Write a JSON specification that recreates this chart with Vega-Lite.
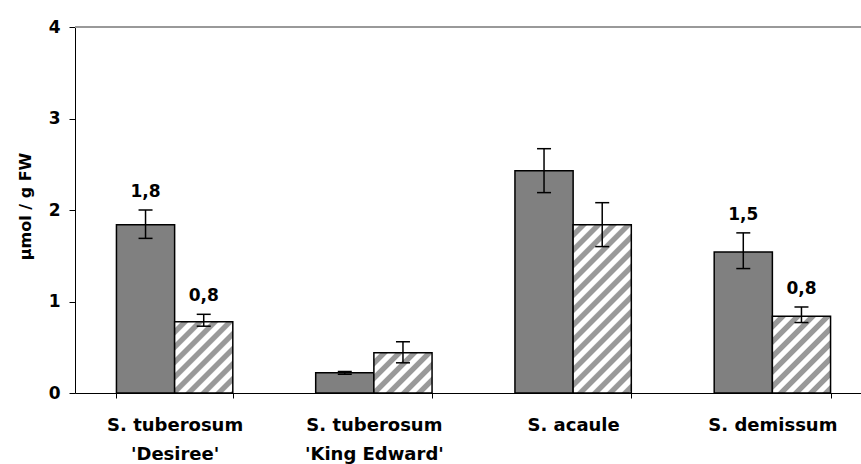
{
  "$schema": "https://vega.github.io/schema/vega-lite/v6.json",
  "autosize": {"type": "none"},
  "padding": {"left": 75, "top": 27, "right": 0, "bottom": 71},
  "width": 786,
  "height": 366,
  "background": "white",
  "config": {
    "view": {"stroke": null},
    "locale": {"number": {"decimal": ",", "thousands": " ", "grouping": [3], "currency": ["", " €"]}},
    "axis": {"domainColor": "black", "tickColor": "black", "labelColor": "black", "titleColor": "black", "grid": false},
    "axisY": {
      "tickSize": 6, "labelPadding": 9,
      "labelFont": "DejaVu Sans", "labelFontWeight": "bold", "labelFontSize": 17,
      "titleFont": "DejaVu Sans", "titleFontWeight": "bold", "titleFontSize": 16,
      "titleX": -42, "titleY": 179, "titleAngle": -90, "titleBaseline": "bottom", "titleAlign": "center"
    }
  },
  "data": {
    "values": [
      {"species": "S. tuberosum 'Desiree'", "series": "A", "value": 1.84, "lower": 1.69, "upper": 2.0},
      {"species": "S. tuberosum 'Desiree'", "series": "B", "value": 0.78, "lower": 0.73, "upper": 0.86},
      {"species": "S. tuberosum 'King Edward'", "series": "A", "value": 0.22, "lower": 0.205, "upper": 0.235},
      {"species": "S. tuberosum 'King Edward'", "series": "B", "value": 0.44, "lower": 0.33, "upper": 0.56},
      {"species": "S. acaule", "series": "A", "value": 2.43, "lower": 2.19, "upper": 2.67},
      {"species": "S. acaule", "series": "B", "value": 1.84, "lower": 1.6, "upper": 2.08},
      {"species": "S. demissum", "series": "A", "value": 1.54, "lower": 1.36, "upper": 1.75},
      {"species": "S. demissum", "series": "B", "value": 0.84, "lower": 0.77, "upper": 0.94}
    ]
  },
  "layer": [
    {
      "mark": {"type": "rule", "color": "#999999", "strokeWidth": 2},
      "encoding": {"y": {"datum": 4, "type": "quantitative", "title": "µmol / g FW", "axis": {"values": [0, 1, 2, 3, 4], "format": "d"}}}
    },
    {
      "encoding": {
        "x": {
          "field": "species", "type": "nominal", "sort": null, "title": null,
          "scale": {"range": [0, 797], "paddingInner": 0.416, "paddingOuter": 0.208},
          "axis": {
            "labelAngle": 0, "tickBand": "extent", "tickSize": 5, "labelPadding": 18,
            "labelFont": "DejaVu Sans", "labelFontWeight": "bold", "labelFontSize": 18,
            "labelLineHeight": 29, "labelBaseline": "top", "labelOverlap": false, "labelBound": false,
            "labelLimit": 300,
            "labelExpr": "indexof(datum.label, \"'\") > 0 ? [substring(datum.label, 0, indexof(datum.label, \"'\") - 1), substring(datum.label, indexof(datum.label, \"'\"))] : datum.label"
          }
        },
        "xOffset": {"field": "series", "type": "nominal", "scale": {"paddingInner": 0, "paddingOuter": 0}}
      },
      "layer": [
        {
          "mark": {"type": "bar", "stroke": "black", "strokeWidth": 1.5},
          "encoding": {
            "y": {
              "field": "value", "type": "quantitative",
              "scale": {"domain": [0, 4], "nice": false},
              "title": "µmol / g FW",
              "axis": {"values": [0, 1, 2, 3, 4], "format": "d"}
            },
            "fill": {
              "condition": [
                {"test": "datum.series === 'A'", "value": "#808080"},
                {"test": "indexof(datum.species, 'Desiree') >= 0", "value": {"gradient": "linear", "x1": 0, "y1": 0, "x2": 1.646, "y2": 2.02, "stops": [
                  {"offset": 0, "color": "#ffffff"}, {"offset": 0.025, "color": "#ffffff"}, {"offset": 0.03125, "color": "#999999"}, {"offset": 0.05625, "color": "#999999"},
                  {"offset": 0.0625, "color": "#ffffff"}, {"offset": 0.0875, "color": "#ffffff"}, {"offset": 0.09375, "color": "#999999"}, {"offset": 0.11875, "color": "#999999"},
                  {"offset": 0.125, "color": "#ffffff"}, {"offset": 0.15, "color": "#ffffff"}, {"offset": 0.15625, "color": "#999999"}, {"offset": 0.18125, "color": "#999999"},
                  {"offset": 0.1875, "color": "#ffffff"}, {"offset": 0.2125, "color": "#ffffff"}, {"offset": 0.21875, "color": "#999999"}, {"offset": 0.24375, "color": "#999999"},
                  {"offset": 0.25, "color": "#ffffff"}, {"offset": 0.275, "color": "#ffffff"}, {"offset": 0.28125, "color": "#999999"}, {"offset": 0.30625, "color": "#999999"},
                  {"offset": 0.3125, "color": "#ffffff"}, {"offset": 0.3375, "color": "#ffffff"}, {"offset": 0.34375, "color": "#999999"}, {"offset": 0.36875, "color": "#999999"},
                  {"offset": 0.375, "color": "#ffffff"}, {"offset": 0.4, "color": "#ffffff"}, {"offset": 0.40625, "color": "#999999"}, {"offset": 0.43125, "color": "#999999"},
                  {"offset": 0.4375, "color": "#ffffff"}, {"offset": 0.4625, "color": "#ffffff"}, {"offset": 0.46875, "color": "#999999"}, {"offset": 0.49375, "color": "#999999"},
                  {"offset": 0.5, "color": "#ffffff"}, {"offset": 0.525, "color": "#ffffff"}, {"offset": 0.53125, "color": "#999999"}, {"offset": 0.55625, "color": "#999999"},
                  {"offset": 0.5625, "color": "#ffffff"}, {"offset": 0.5875, "color": "#ffffff"}, {"offset": 0.59375, "color": "#999999"}, {"offset": 0.61875, "color": "#999999"},
                  {"offset": 0.625, "color": "#ffffff"}, {"offset": 0.65, "color": "#ffffff"}, {"offset": 0.65625, "color": "#999999"}, {"offset": 0.68125, "color": "#999999"},
                  {"offset": 0.6875, "color": "#ffffff"}, {"offset": 0.7125, "color": "#ffffff"}, {"offset": 0.71875, "color": "#999999"}, {"offset": 0.74375, "color": "#999999"},
                  {"offset": 0.75, "color": "#ffffff"}, {"offset": 0.775, "color": "#ffffff"}, {"offset": 0.78125, "color": "#999999"}, {"offset": 0.80625, "color": "#999999"},
                  {"offset": 0.8125, "color": "#ffffff"}, {"offset": 0.8375, "color": "#ffffff"}, {"offset": 0.84375, "color": "#999999"}, {"offset": 0.86875, "color": "#999999"},
                  {"offset": 0.875, "color": "#ffffff"}, {"offset": 0.9, "color": "#ffffff"}, {"offset": 0.90625, "color": "#999999"}, {"offset": 0.93125, "color": "#999999"},
                  {"offset": 0.9375, "color": "#ffffff"}, {"offset": 0.9625, "color": "#ffffff"}, {"offset": 0.96875, "color": "#999999"}, {"offset": 0.99375, "color": "#999999"},
                  {"offset": 1, "color": "#ffffff"}]}},
                {"test": "indexof(datum.species, 'King Edward') >= 0", "value": {"gradient": "linear", "x1": 0, "y1": 0, "x2": 2.789, "y2": 1.929, "stops": [
                  {"offset": 0, "color": "#ffffff"}, {"offset": 0.025, "color": "#ffffff"}, {"offset": 0.03125, "color": "#999999"}, {"offset": 0.05625, "color": "#999999"},
                  {"offset": 0.0625, "color": "#ffffff"}, {"offset": 0.0875, "color": "#ffffff"}, {"offset": 0.09375, "color": "#999999"}, {"offset": 0.11875, "color": "#999999"},
                  {"offset": 0.125, "color": "#ffffff"}, {"offset": 0.15, "color": "#ffffff"}, {"offset": 0.15625, "color": "#999999"}, {"offset": 0.18125, "color": "#999999"},
                  {"offset": 0.1875, "color": "#ffffff"}, {"offset": 0.2125, "color": "#ffffff"}, {"offset": 0.21875, "color": "#999999"}, {"offset": 0.24375, "color": "#999999"},
                  {"offset": 0.25, "color": "#ffffff"}, {"offset": 0.275, "color": "#ffffff"}, {"offset": 0.28125, "color": "#999999"}, {"offset": 0.30625, "color": "#999999"},
                  {"offset": 0.3125, "color": "#ffffff"}, {"offset": 0.3375, "color": "#ffffff"}, {"offset": 0.34375, "color": "#999999"}, {"offset": 0.36875, "color": "#999999"},
                  {"offset": 0.375, "color": "#ffffff"}, {"offset": 0.4, "color": "#ffffff"}, {"offset": 0.40625, "color": "#999999"}, {"offset": 0.43125, "color": "#999999"},
                  {"offset": 0.4375, "color": "#ffffff"}, {"offset": 0.4625, "color": "#ffffff"}, {"offset": 0.46875, "color": "#999999"}, {"offset": 0.49375, "color": "#999999"},
                  {"offset": 0.5, "color": "#ffffff"}, {"offset": 0.525, "color": "#ffffff"}, {"offset": 0.53125, "color": "#999999"}, {"offset": 0.55625, "color": "#999999"},
                  {"offset": 0.5625, "color": "#ffffff"}, {"offset": 0.5875, "color": "#ffffff"}, {"offset": 0.59375, "color": "#999999"}, {"offset": 0.61875, "color": "#999999"},
                  {"offset": 0.625, "color": "#ffffff"}, {"offset": 0.65, "color": "#ffffff"}, {"offset": 0.65625, "color": "#999999"}, {"offset": 0.68125, "color": "#999999"},
                  {"offset": 0.6875, "color": "#ffffff"}, {"offset": 0.7125, "color": "#ffffff"}, {"offset": 0.71875, "color": "#999999"}, {"offset": 0.74375, "color": "#999999"},
                  {"offset": 0.75, "color": "#ffffff"}, {"offset": 0.775, "color": "#ffffff"}, {"offset": 0.78125, "color": "#999999"}, {"offset": 0.80625, "color": "#999999"},
                  {"offset": 0.8125, "color": "#ffffff"}, {"offset": 0.8375, "color": "#ffffff"}, {"offset": 0.84375, "color": "#999999"}, {"offset": 0.86875, "color": "#999999"},
                  {"offset": 0.875, "color": "#ffffff"}, {"offset": 0.9, "color": "#ffffff"}, {"offset": 0.90625, "color": "#999999"}, {"offset": 0.93125, "color": "#999999"},
                  {"offset": 0.9375, "color": "#ffffff"}, {"offset": 0.9625, "color": "#ffffff"}, {"offset": 0.96875, "color": "#999999"}, {"offset": 0.99375, "color": "#999999"},
                  {"offset": 1, "color": "#ffffff"}]}},
                {"test": "datum.species === 'S. acaule'", "value": {"gradient": "linear", "x1": 0, "y1": 0, "x2": 0.44, "y2": 1.273, "stops": [
                  {"offset": 0, "color": "#ffffff"}, {"offset": 0.025, "color": "#ffffff"}, {"offset": 0.03125, "color": "#999999"}, {"offset": 0.05625, "color": "#999999"},
                  {"offset": 0.0625, "color": "#ffffff"}, {"offset": 0.0875, "color": "#ffffff"}, {"offset": 0.09375, "color": "#999999"}, {"offset": 0.11875, "color": "#999999"},
                  {"offset": 0.125, "color": "#ffffff"}, {"offset": 0.15, "color": "#ffffff"}, {"offset": 0.15625, "color": "#999999"}, {"offset": 0.18125, "color": "#999999"},
                  {"offset": 0.1875, "color": "#ffffff"}, {"offset": 0.2125, "color": "#ffffff"}, {"offset": 0.21875, "color": "#999999"}, {"offset": 0.24375, "color": "#999999"},
                  {"offset": 0.25, "color": "#ffffff"}, {"offset": 0.275, "color": "#ffffff"}, {"offset": 0.28125, "color": "#999999"}, {"offset": 0.30625, "color": "#999999"},
                  {"offset": 0.3125, "color": "#ffffff"}, {"offset": 0.3375, "color": "#ffffff"}, {"offset": 0.34375, "color": "#999999"}, {"offset": 0.36875, "color": "#999999"},
                  {"offset": 0.375, "color": "#ffffff"}, {"offset": 0.4, "color": "#ffffff"}, {"offset": 0.40625, "color": "#999999"}, {"offset": 0.43125, "color": "#999999"},
                  {"offset": 0.4375, "color": "#ffffff"}, {"offset": 0.4625, "color": "#ffffff"}, {"offset": 0.46875, "color": "#999999"}, {"offset": 0.49375, "color": "#999999"},
                  {"offset": 0.5, "color": "#ffffff"}, {"offset": 0.525, "color": "#ffffff"}, {"offset": 0.53125, "color": "#999999"}, {"offset": 0.55625, "color": "#999999"},
                  {"offset": 0.5625, "color": "#ffffff"}, {"offset": 0.5875, "color": "#ffffff"}, {"offset": 0.59375, "color": "#999999"}, {"offset": 0.61875, "color": "#999999"},
                  {"offset": 0.625, "color": "#ffffff"}, {"offset": 0.65, "color": "#ffffff"}, {"offset": 0.65625, "color": "#999999"}, {"offset": 0.68125, "color": "#999999"},
                  {"offset": 0.6875, "color": "#ffffff"}, {"offset": 0.7125, "color": "#ffffff"}, {"offset": 0.71875, "color": "#999999"}, {"offset": 0.74375, "color": "#999999"},
                  {"offset": 0.75, "color": "#ffffff"}, {"offset": 0.775, "color": "#ffffff"}, {"offset": 0.78125, "color": "#999999"}, {"offset": 0.80625, "color": "#999999"},
                  {"offset": 0.8125, "color": "#ffffff"}, {"offset": 0.8375, "color": "#ffffff"}, {"offset": 0.84375, "color": "#999999"}, {"offset": 0.86875, "color": "#999999"},
                  {"offset": 0.875, "color": "#ffffff"}, {"offset": 0.9, "color": "#ffffff"}, {"offset": 0.90625, "color": "#999999"}, {"offset": 0.93125, "color": "#999999"},
                  {"offset": 0.9375, "color": "#ffffff"}, {"offset": 0.9625, "color": "#ffffff"}, {"offset": 0.96875, "color": "#999999"}, {"offset": 0.99375, "color": "#999999"},
                  {"offset": 1, "color": "#ffffff"}]}}
              ],
              "value": {"gradient": "linear", "x1": 0, "y1": 0, "x2": 1.503, "y2": 1.985, "stops": [
                  {"offset": 0, "color": "#ffffff"}, {"offset": 0.025, "color": "#ffffff"}, {"offset": 0.03125, "color": "#999999"}, {"offset": 0.05625, "color": "#999999"},
                  {"offset": 0.0625, "color": "#ffffff"}, {"offset": 0.0875, "color": "#ffffff"}, {"offset": 0.09375, "color": "#999999"}, {"offset": 0.11875, "color": "#999999"},
                  {"offset": 0.125, "color": "#ffffff"}, {"offset": 0.15, "color": "#ffffff"}, {"offset": 0.15625, "color": "#999999"}, {"offset": 0.18125, "color": "#999999"},
                  {"offset": 0.1875, "color": "#ffffff"}, {"offset": 0.2125, "color": "#ffffff"}, {"offset": 0.21875, "color": "#999999"}, {"offset": 0.24375, "color": "#999999"},
                  {"offset": 0.25, "color": "#ffffff"}, {"offset": 0.275, "color": "#ffffff"}, {"offset": 0.28125, "color": "#999999"}, {"offset": 0.30625, "color": "#999999"},
                  {"offset": 0.3125, "color": "#ffffff"}, {"offset": 0.3375, "color": "#ffffff"}, {"offset": 0.34375, "color": "#999999"}, {"offset": 0.36875, "color": "#999999"},
                  {"offset": 0.375, "color": "#ffffff"}, {"offset": 0.4, "color": "#ffffff"}, {"offset": 0.40625, "color": "#999999"}, {"offset": 0.43125, "color": "#999999"},
                  {"offset": 0.4375, "color": "#ffffff"}, {"offset": 0.4625, "color": "#ffffff"}, {"offset": 0.46875, "color": "#999999"}, {"offset": 0.49375, "color": "#999999"},
                  {"offset": 0.5, "color": "#ffffff"}, {"offset": 0.525, "color": "#ffffff"}, {"offset": 0.53125, "color": "#999999"}, {"offset": 0.55625, "color": "#999999"},
                  {"offset": 0.5625, "color": "#ffffff"}, {"offset": 0.5875, "color": "#ffffff"}, {"offset": 0.59375, "color": "#999999"}, {"offset": 0.61875, "color": "#999999"},
                  {"offset": 0.625, "color": "#ffffff"}, {"offset": 0.65, "color": "#ffffff"}, {"offset": 0.65625, "color": "#999999"}, {"offset": 0.68125, "color": "#999999"},
                  {"offset": 0.6875, "color": "#ffffff"}, {"offset": 0.7125, "color": "#ffffff"}, {"offset": 0.71875, "color": "#999999"}, {"offset": 0.74375, "color": "#999999"},
                  {"offset": 0.75, "color": "#ffffff"}, {"offset": 0.775, "color": "#ffffff"}, {"offset": 0.78125, "color": "#999999"}, {"offset": 0.80625, "color": "#999999"},
                  {"offset": 0.8125, "color": "#ffffff"}, {"offset": 0.8375, "color": "#ffffff"}, {"offset": 0.84375, "color": "#999999"}, {"offset": 0.86875, "color": "#999999"},
                  {"offset": 0.875, "color": "#ffffff"}, {"offset": 0.9, "color": "#ffffff"}, {"offset": 0.90625, "color": "#999999"}, {"offset": 0.93125, "color": "#999999"},
                  {"offset": 0.9375, "color": "#ffffff"}, {"offset": 0.9625, "color": "#ffffff"}, {"offset": 0.96875, "color": "#999999"}, {"offset": 0.99375, "color": "#999999"},
                  {"offset": 1, "color": "#ffffff"}]}
            }
          }
        },
        {
          "mark": {"type": "rule", "color": "black", "strokeWidth": 1.5},
          "encoding": {
            "y": {"field": "lower", "type": "quantitative", "title": "µmol / g FW"},
            "y2": {"field": "upper"}
          }
        },
        {
          "mark": {"type": "tick", "color": "black", "size": 14, "thickness": 1.5, "opacity": 1},
          "encoding": {"y": {"field": "upper", "type": "quantitative", "title": "µmol / g FW"}}
        },
        {
          "mark": {"type": "tick", "color": "black", "size": 14, "thickness": 1.5, "opacity": 1},
          "encoding": {"y": {"field": "lower", "type": "quantitative", "title": "µmol / g FW"}}
        },
        {
          "transform": [{"filter": "indexof(datum.species, 'Desiree') >= 0 || datum.species === 'S. demissum'"}],
          "mark": {"type": "text", "font": "DejaVu Sans", "fontWeight": "bold", "fontSize": 17, "baseline": "alphabetic", "dy": -13, "color": "black"},
          "encoding": {
            "y": {"field": "upper", "type": "quantitative", "title": "µmol / g FW"},
            "text": {"field": "value", "type": "quantitative", "format": ".1f"}
          }
        }
      ]
    }
  ]
}
